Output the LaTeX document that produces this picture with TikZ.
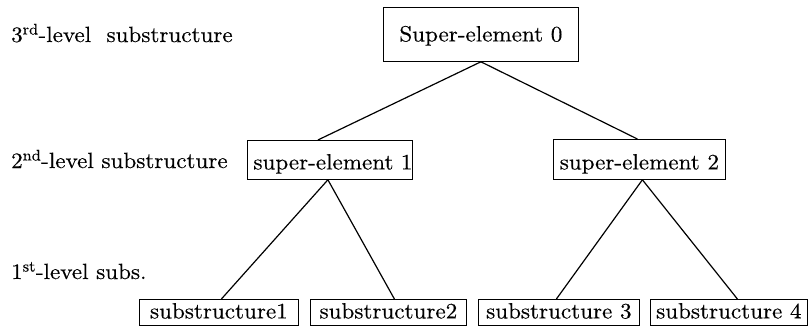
\documentclass[tikz,border=0pt]{standalone}
\usepackage{fontspec}
\setmainfont{lmroman10-regular.otf}[FakeStretch=1.05,FakeBold=0.4]
\begin{document}
\begin{tikzpicture}[x=1pt,y=-1pt,
  txt/.style={font=\fontsize{22}{26}\selectfont, inner sep=0pt},
  elbox/.style={txt, draw, line width=0.8pt, anchor=north west, align=center},
  conn/.style={line width=1.2pt},
  lvl/.style={txt, anchor=base west}]
\useasboundingbox (0,0) rectangle (809,326);
% level labels
\node[lvl] (l3) at (11,42) {3\textsuperscript{rd}-level\ \ substructure};
\node[lvl] (l2) at (11,168) {2\textsuperscript{nd}-level substructure};
\node[lvl] (l1) at (11,279) {1\textsuperscript{st}-level subs.};
% boxes
\node[elbox, minimum width=195pt, text height=34pt, text depth=20pt] (s0) at (383,7) {Super-element 0};
\node[elbox, text width=165pt, align=right, text height=29pt, text depth=10pt] (s1) at (247,140) {super-element 1\hspace*{1pt}};
\node[elbox, minimum width=172pt, text height=30pt, text depth=10pt] (s2) at (553,139) {super-element 2};
\node[elbox, minimum width=159pt, text height=19pt, text depth=7pt] (b1) at (139,299) {substructure1};
\node[elbox, minimum width=156pt, text height=19pt, text depth=7pt] (b2) at (310,299) {substructure2};
\node[elbox, minimum width=161pt, text height=19pt, text depth=7pt] (b3) at (478,299) {substructure 3};
\node[elbox, minimum width=157pt, text height=19pt, text depth=7pt] (b4) at (650,299) {substructure 4};
% connectors
\draw[conn] (s0.south) -- ([xshift=-12pt]s1.north);
\draw[conn] (s0.south) -- ([xshift=-2pt]s2.north);
\draw[conn] ([xshift=-2pt]s1.south) -- ([xshift=2.5pt]b1.north);
\draw[conn] ([xshift=-2pt]s1.south) -- ([xshift=6pt]b2.north);
\draw[conn] ([xshift=3pt]s2.south) -- ([xshift=-2.5pt]b3.north);
\draw[conn] ([xshift=3pt]s2.south) -- ([xshift=8.5pt]b4.north);
\end{tikzpicture}
\end{document}
